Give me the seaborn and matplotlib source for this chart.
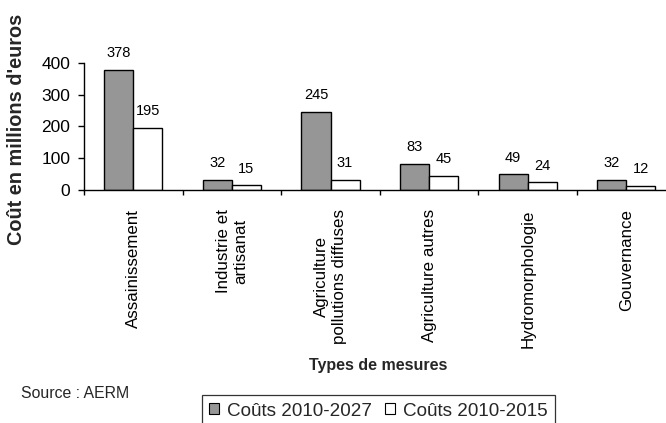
import matplotlib
matplotlib.use("Agg")
import matplotlib.pyplot as plt
from matplotlib.patches import Patch
import seaborn as sns
import pandas as pd

categories = ["Assainissement", "Industrie et\nartisanat", "Agriculture\npollutions diffuses",
              "Agriculture autres", "Hydromorphologie", "Gouvernance"]
series_names = ["Coûts 2010-2027", "Coûts 2010-2015"]
costs_2027 = [378, 32, 245, 83, 49, 32]
costs_2015 = [195, 15, 31, 45, 24, 12]
y_ticks = [0, 100, 200, 300, 400]

sns.set_theme(style="ticks")
plt.rcParams["font.family"] = ["Liberation Sans", "DejaVu Sans"]

df = pd.DataFrame({
    "Type": categories * 2,
    "Série": [series_names[0]] * len(categories) + [series_names[1]] * len(categories),
    "Coût": costs_2027 + costs_2015,
})

fig = plt.figure(figsize=(6.66, 4.23), dpi=100)
ax = fig.add_axes([84 / 666, 1 - 190 / 423, 591.6 / 666, 127 / 423])

colors = ["#969696", "#ffffff"]
sns.barplot(data=df, x="Type", y="Coût", hue="Série", order=categories,
            hue_order=series_names, palette=colors, saturation=1,
            width=0.59, gap=0, edgecolor="black", linewidth=1.0,
            errorbar=None, legend=False, ax=ax)

for cont in ax.containers:
    labels = ax.bar_label(cont, padding=7.0, fontsize=10.5, color="black")
    for t in labels:
        t.set_clip_on(False)

ax.set_xlim(-0.5, 5.5)
ax.set_ylim(0, 400)
ax.set_yticks(y_ticks)
ax.tick_params(axis="y", labelsize=12.5, length=4.3, width=1, pad=5.5, direction="out", colors="black")
ax.set_xticks(range(len(categories)))
ax.set_xticklabels(categories, rotation=90, fontsize=12.2)
ax.tick_params(axis="x", which="major", length=0, pad=13.7, colors="black")
ax.set_xticks([i - 0.5 for i in range(len(categories) + 1)], minor=True)
ax.tick_params(axis="x", which="minor", length=3.6, width=1, direction="out", color="black")

for side in ["top", "right"]:
    ax.spines[side].set_visible(False)
for side in ["left", "bottom"]:
    ax.spines[side].set_color("black")
    ax.spines[side].set_linewidth(1.0)
ax.set_facecolor("white")

ax.set_xlabel("Types de mesures", fontsize=11.5, fontweight="bold")
ax.xaxis.set_label_coords((378 - 84) / 591.6, (190 - 365) / 127)
ax.xaxis.label.set_va("center")
ax.set_ylabel("Coût en millions d'euros", fontsize=14.3, fontweight="bold")
ax.yaxis.set_label_coords((17 - 84) / 591.6, (190 - 129) / 127)
ax.yaxis.label.set_va("center")

fig.text(21 / 666, 1 - 393 / 423, "Source : AERM", fontsize=11.4, ha="left", va="center")

handles = [Patch(facecolor=colors[0], edgecolor="black", linewidth=0.8),
           Patch(facecolor=colors[1], edgecolor="black", linewidth=0.8)]
leg = fig.legend(handles, series_names, loc="upper left",
                 bbox_to_anchor=(201.7 / 666, 1 - 395 / 423), ncol=2,
                 fontsize=13.6, frameon=True, fancybox=False, borderaxespad=0,
                 borderpad=0.4, handlelength=0.54, handleheight=0.54,
                 handletextpad=0.41, columnspacing=0.68)
leg.get_frame().set_edgecolor("black")
leg.get_frame().set_linewidth(0.9)
leg.get_frame().set_facecolor("white")

fig.savefig("out.png", dpi=100, facecolor="white")
